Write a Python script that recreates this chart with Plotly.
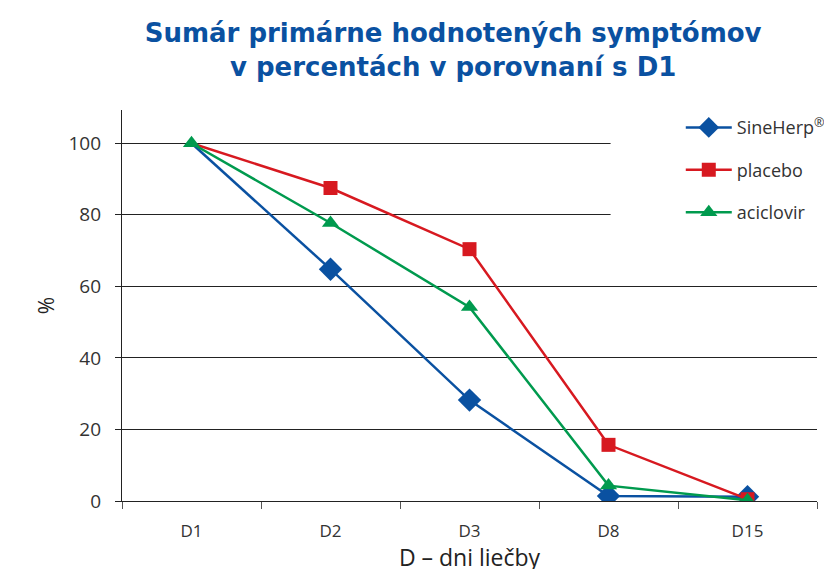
import plotly.graph_objects as go

days = ["D1", "D2", "D3", "D8", "D15"]
sineherp = [100, 64.8, 28.2, 1.4, 1.2]
placebo = [100, 87.5, 70.4, 15.7, 0.5]
aciklovir = [100, 77.7, 54.2, 4.3, 0.2]
y_ticks = [0, 20, 40, 60, 80, 100]

series = [
    ("SineHerp<sup>®</sup>", sineherp, "#0A51A1", "diamond", 18, False),
    ("placebo", placebo, "#D71920", "square", 14, False),
    ("aciclovir", aciklovir, "#009A4E", "triangle-up", 15, True),
]

fig = go.Figure()
for i, (name, vals, col, sym, sz, first_marker) in enumerate(series):
    start = 0 if first_marker else 1
    if not first_marker:
        # first segment (D1 -> D2) drawn without a marker at D1
        fig.add_trace(go.Scatter(
            x=days[:2], y=vals[:2], mode="lines",
            line=dict(color=col, width=2.5),
            showlegend=False, legendgroup=f"g{i}", hoverinfo="skip",
        ))
    fig.add_trace(go.Scatter(
        x=days[start:], y=vals[start:], mode="lines+markers",
        name=name,
        legendgroup=f"g{i}",
        line=dict(color=col, width=2.5),
        marker=dict(symbol=sym, size=sz, color=col, opacity=1),
    ))

font_family = "Open Sans, Noto Sans, sans-serif"

fig.update_layout(
    width=832, height=569,
    margin=dict(l=114, r=23, t=102, b=76, autoexpand=False),
    paper_bgcolor="white", plot_bgcolor="white",
    title=dict(
        text="<b>Sumár primárne hodnotených symptómov<br>v percentách v porovnaní s D1</b>",
        x=0.535, xanchor="center", y=0.94, yanchor="top",
        font=dict(family="DejaVu Sans, sans-serif", size=26, color="#0A51A1"),
    ),
    showlegend=True,
    legend=dict(
        x=0.804, xanchor="left", y=1.002, yanchor="top",
        bgcolor="rgba(0,0,0,0)",
        font=dict(family=font_family, size=18, color="#333333"),
        traceorder="grouped", tracegroupgap=16,
        itemwidth=46,
    ),
    xaxis=dict(
        type="category", categoryorder="array", categoryarray=days,
        range=[-0.5, 4.5], automargin=False,
        showline=True, linecolor="#222222", linewidth=1.2,
        ticks="outside", tickson="boundaries", ticklen=7, tickcolor="#555555",
        showgrid=False, ticklabelstandoff=14,
        tickfont=dict(family=font_family, size=17, color="#333333"),
        title=dict(text="D – dni liečby", font=dict(family=font_family, size=23, color="#222222"), standoff=7),
    ),
    yaxis=dict(
        range=[0, 109.3], tickvals=y_ticks, automargin=False,
        showline=True, linecolor="#222222", linewidth=1.2,
        ticks="outside", ticklen=6, tickcolor="#222222",
        showgrid=True, gridcolor="#222222", gridwidth=1,
        zeroline=False, ticklabelstandoff=10,
        tickfont=dict(family=font_family, size=19, color="#333333"),
        title=dict(text="%", font=dict(family=font_family, size=21, color="#222222"), standoff=8),
    ),
    shapes=[dict(
        type="rect", xref="paper", yref="paper",
        x0=0.703, x1=1.05, y0=0.66, y1=1.0,
        fillcolor="white", line=dict(width=0), layer="above",
    )],
)

fig.write_html("out.html")
